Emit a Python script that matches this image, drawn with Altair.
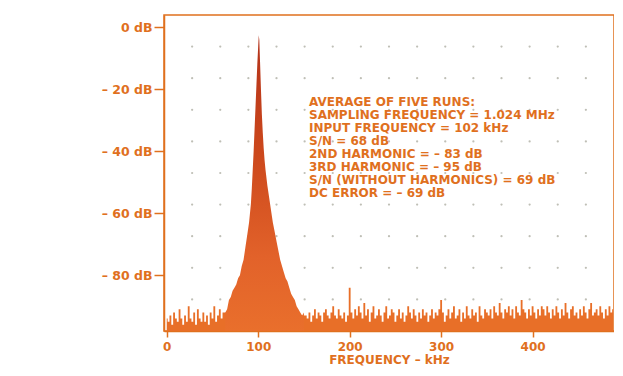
import altair as alt
import numpy as np
import pandas as pd

ORANGE = "#e0701e"
FONT = "DejaVu Sans"

# ---- data (kHz, dB) ----
left_floor_khz = list(range(0, 64, 2))
left_floor_db = [-94, -95, -93, -96, -92, -94, -95, -91, -94, -96,
                 -93, -95, -90, -94, -95, -92, -96, -91, -94, -95,
                 -92, -95, -93, -96, -92, -94, -90, -95, -93, -91,
                 -94, -92]

peak_khz = [64, 66, 68, 70, 72, 74, 76, 78, 80, 82, 84, 86, 88, 90, 92, 93, 94,
            95, 96, 97, 98, 99, 100, 100.6, 101.2, 102, 103, 104, 105, 106, 107,
            108, 110, 112, 114, 116, 118, 120, 122, 124, 126, 128, 130, 132, 134,
            136, 138, 140, 142, 144, 146, 148, 150]
peak_db = [-92, -91, -88, -87, -85, -84, -83, -81, -80, -77, -75, -71, -67, -63,
           -57, -52, -46, -40, -33, -26, -19, -12, -6, -2.5, -4, -11, -20, -28,
           -34, -39, -43, -46, -51, -55, -59, -63, -66, -69, -72, -75, -77, -79,
           -81, -82, -84, -86, -87, -88, -90, -91, -92, -93, -92]

right_floor_khz = list(range(152, 490, 2))
right_floor_db = [-93, -94, -92, -95, -93, -91, -94, -92, -93, -95,
                  -92, -91, -93, -94, -92, -90, -93, -94, -91, -93,
                  -94, -92, -95, -93, -84, -92, -94, -91, -93, -90,
                  -92, -94, -89, -93, -91, -95, -92, -90, -94, -93,
                  -91, -93, -95, -92, -90, -94, -93, -91, -92, -95,
                  -93, -91, -94, -92, -95, -93, -90, -92, -94, -91,
                  -93, -95, -92, -94, -91, -93, -92, -95, -93, -91,
                  -94, -92, -93, -91, -88, -92, -95, -93, -91, -94,
                  -92, -90, -94, -93, -91, -95, -92, -94, -90, -93,
                  -94, -91, -93, -92, -95, -90, -93, -94, -91, -92,
                  -93, -91, -94, -90, -92, -93, -89, -92, -94, -91,
                  -92, -90, -93, -91, -94, -90, -92, -93, -88, -91,
                  -92, -94, -91, -93, -90, -92, -94, -91, -93, -90,
                  -91, -93, -90, -92, -94, -91, -93, -90, -92, -94,
                  -91, -93, -89, -92, -94, -91, -90, -93, -92, -94,
                  -91, -93, -90, -92, -94, -91, -89, -93, -92, -91,
                  -93, -90, -92, -94, -91, -93, -90, -92, -91]

x_ticks = [0, 100, 200, 300, 400]
y_ticks = [0, -20, -40, -60, -80]

notes = ["AVERAGE OF FIVE RUNS:",
         "SAMPLING FREQUENCY = 1.024 MHz",
         "INPUT FREQUENCY = 102 kHz",
         "S/N = 68 dB",
         "2ND HARMONIC = \u2013 83 dB",
         "3RD HARMONIC = \u2013 95 dB",
         "S/N (WITHOUT HARMONICS) = 69 dB",
         "DC ERROR = \u2013 69 dB"]

X_DOM = [-3, 489]
Y_DOM = [-98, 4]
W, H = 450, 316

floor = pd.DataFrame({"f": left_floor_khz + right_floor_khz,
                      "db": left_floor_db + right_floor_db})
peak = pd.DataFrame({"f": peak_khz, "db": peak_db})

gx = np.linspace(X_DOM[0], X_DOM[1], 17)[1:-1]
gy = np.linspace(Y_DOM[0], Y_DOM[1], 11)[1:-1]
grid = pd.DataFrame([(a, b) for a in gx for b in gy], columns=["gx", "gy"])

xs = alt.Scale(domain=X_DOM, nice=False, zero=False)
ys = alt.Scale(domain=Y_DOM, nice=False, zero=False)

x_axis = alt.Axis(values=x_ticks, labelColor=ORANGE, labelFont=FONT, labelFontWeight="bold",
                  labelFontSize=12, tickColor=ORANGE, tickSize=6, tickWidth=1.5,
                  domainColor=ORANGE, domainWidth=1.5, grid=False, labelPadding=4,
                  title="FREQUENCY \u2013 kHz", titleColor=ORANGE, titleFont=FONT,
                  titleFontWeight="bold", titleFontSize=12, titlePadding=2)
y_axis = alt.Axis(values=y_ticks, labelColor=ORANGE, labelFont=FONT, labelFontWeight="bold",
                  labelFontSize=12.5, tickColor=ORANGE, tickSize=10, tickWidth=1.5,
                  domainColor=ORANGE, domainWidth=1.5, grid=False, labelPadding=2,
                  labelExpr="datum.value == 0 ? '0 dB' : '\u2013 ' + abs(datum.value) + ' dB'",
                  title=None)

dots = alt.Chart(grid).mark_circle(size=5, color="#b8b8ae", opacity=0.9).encode(
    x=alt.X("gx:Q", scale=xs, axis=x_axis),
    y=alt.Y("gy:Q", scale=ys, axis=y_axis),
)

floor_area = alt.Chart(floor).mark_area(color="#e86f28", interpolate="step").encode(
    x=alt.X("f:Q", scale=xs),
    y=alt.Y("db:Q", scale=ys),
    y2=alt.datum(-98),
)

fill = alt.Gradient(
    gradient="linear", x1=0, y1=0, x2=0, y2=1,
    stops=[alt.GradientStop(color="#b3321a", offset=0),
           alt.GradientStop(color="#cc481c", offset=0.4),
           alt.GradientStop(color="#e2622a", offset=0.75),
           alt.GradientStop(color="#e96f2c", offset=1)])

peak_area = alt.Chart(peak).mark_area(color=fill, interpolate="linear").encode(
    x=alt.X("f:Q", scale=xs),
    y=alt.Y("db:Q", scale=ys),
    y2=alt.datum(-98),
)

text = alt.Chart(pd.DataFrame({"k": [0]})).mark_text(
    text=notes, align="left", baseline="top", font=FONT, fontWeight="bold",
    fontSize=12, lineHeight=13, color=ORANGE,
).encode(x=alt.value(145), y=alt.value(82))

chart = alt.layer(dots, floor_area, peak_area, text).properties(
    width=W, height=H,
    padding={"left": 156, "top": 7, "right": 0, "bottom": 37},
    autosize=alt.AutoSizeParams(type="none"),
).configure_view(stroke=ORANGE, strokeWidth=1.5)

chart.save("out.html", embed_options={"renderer": "svg", "actions": False})
